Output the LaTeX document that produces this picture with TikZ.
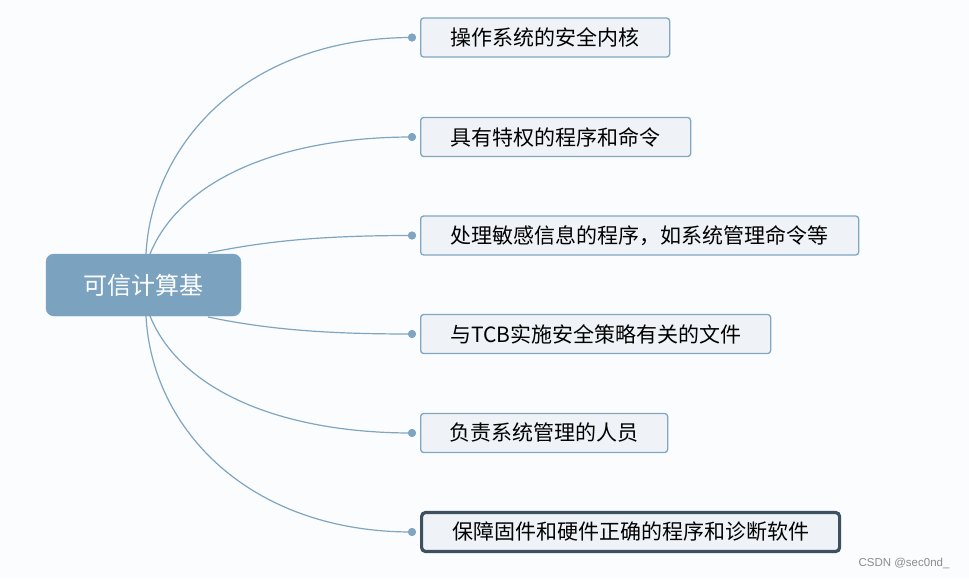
\documentclass[tikz,border=0pt]{standalone}
\usepackage{fontspec}
\newfontfamily\cjk{Noto Sans CJK SC}
\newfontfamily\wm{Liberation Sans}
\definecolor{bg}{HTML}{FBFCFD}
\definecolor{rootc}{HTML}{7BA3C0}
\definecolor{boxfill}{HTML}{EFF3F7}
\definecolor{boxline}{HTML}{80A6C2}
\definecolor{linkc}{HTML}{7FA5C2}
\definecolor{darkline}{HTML}{3E4F5F}
\begin{document}
\begin{tikzpicture}[x=1pt,y=-1pt,
  rootbox/.style={fill=rootc, draw=rootc, rounded corners=8pt, minimum width=195pt, minimum height=62pt, inner sep=0pt, text=white, font=\cjk\fontsize{24}{26}\selectfont},
  leaf/.style={fill=boxfill, draw=boxline, line width=1.3pt, rounded corners=3pt, minimum height=39pt, inner sep=0pt, anchor=west, font=\cjk\fontsize{21}{23}\selectfont, text=black},
  link/.style={draw=linkc, line width=1.2pt},
  dotc/.style={circle, fill=linkc, inner sep=0pt, minimum size=8pt}]
\fill[bg] (0,0) rectangle (969,579);
\useasboundingbox (0,0) rectangle (969,579);

\node[rootbox] (root) at (143.5,285) {可信计算基};

\node[leaf, minimum width=249pt] (c1) at (420,37.5) {操作系统的安全内核};
\node[leaf, minimum width=270pt] (c2) at (420,137) {具有特权的程序和命令};
\node[leaf, minimum width=438pt] (c3) at (420,235.5) {处理敏感信息的程序，如系统管理命令等};
\node[leaf, minimum width=350pt] (c4) at (420,334) {与TCB实施安全策略有关的文件};
\node[leaf, minimum width=247pt] (c5) at (420,433) {负责系统管理的人员};
\node[leaf, minimum width=418pt, draw=darkline, line width=3.2pt, rounded corners=4pt] (c6) at (420,532) {保障固件和硬件正确的程序和诊断软件};

\node[dotc] (d1) at (412,37.5) {};
\node[dotc] (d2) at (412,137) {};
\node[dotc] (d3) at (412,235.5) {};
\node[dotc] (d4) at (412,334) {};
\node[dotc] (d5) at (412,433) {};
\node[dotc] (d6) at (412,532) {};

\coordinate (s1) at (146,254);
\coordinate (s2) at (150,254);
\coordinate (s3) at (208,253);
\coordinate (s4) at (208,317);
\coordinate (s5) at (150,316);
\coordinate (s6) at (146,316);

\draw[link] (s1) .. controls (152,140) and (250,37.5) .. (d1.center);
\draw[link] (s2) .. controls (180,180) and (280,137) .. (d2.center);
\draw[link] (s3) .. controls (270,240) and (330,235.5) .. (d3.center);
\draw[link] (s4) .. controls (270,330) and (330,334) .. (d4.center);
\draw[link] (s5) .. controls (180,390) and (280,433) .. (d5.center);
\draw[link] (s6) .. controls (152,430) and (250,532) .. (d6.center);
\node[dotc] at (d1) {};
\node[dotc] at (d2) {};
\node[dotc] at (d3) {};
\node[dotc] at (d4) {};
\node[dotc] at (d5) {};
\node[dotc] at (d6) {};

\node[font=\wm\fontsize{11.5}{12}\selectfont, text=gray!90, anchor=east] (wm) at (953,563) {CSDN @sec0nd\_};
\end{tikzpicture}
\end{document}
